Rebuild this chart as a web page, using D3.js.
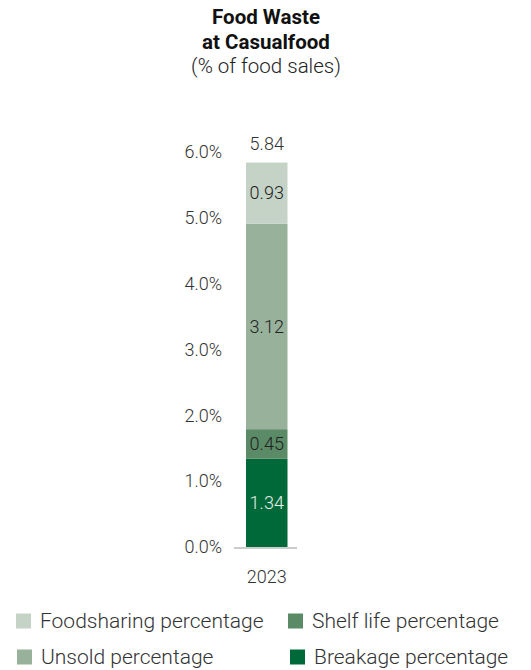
<!DOCTYPE html>
<html>
<head>
<meta charset="utf-8">
<script src="https://cdn.jsdelivr.net/npm/d3@7"></script>
<style>
  html, body { margin: 0; padding: 0; background: #fff; }
  svg { display: block; font-family: Roboto, "Noto Sans", sans-serif; }
</style>
</head>
<body>
<svg id="chart" width="531" height="670"></svg>
<script>
// Food waste by category, % of food sales
const years = ["2023"];
const categories = ["Breakage percentage", "Shelf life percentage", "Unsold percentage", "Foodsharing percentage"];
const breakage = [1.34];
const shelfLife = [0.45];
const unsold = [3.12];
const foodsharing = [0.93];
const totals = [5.84];
const yTicks = [0, 1, 2, 3, 4, 5, 6];
const colors = ["#00693a", "#5b8a67", "#97b19a", "#c5d3c7"];
const labelColors = ["#e8efe9", "#222", "#222", "#222"];
const legendOrder = ["Foodsharing percentage", "Shelf life percentage", "Unsold percentage", "Breakage percentage"];

const svg = d3.select("#chart");

// Title
const title = svg.append("g").attr("text-anchor", "middle").attr("fill", "#111");
title.append("text").attr("x", 266).attr("y", 24).attr("font-size", 20.5).attr("font-weight", 700).text("Food Waste");
title.append("text").attr("x", 266).attr("y", 49).attr("font-size", 20.5).attr("font-weight", 700).text("at Casualfood");
title.append("text").attr("x", 266).attr("y", 73).attr("font-size", 20.5).attr("font-weight", 300).attr("fill", "#222").text("(% of food sales)");

const y = d3.scaleLinear().domain([0, 6]).range([547, 152]);
const x = d3.scaleBand().domain(years).range([246, 287.5]).padding(0);

// Stack the series
const rows = years.map((yr, i) => ({
  year: yr,
  "Breakage percentage": breakage[i],
  "Shelf life percentage": shelfLife[i],
  "Unsold percentage": unsold[i],
  "Foodsharing percentage": foodsharing[i]
}));
const stack = d3.stack().keys(categories)(rows);

// Y axis labels (no line)
const yAxis = d3.axisLeft(y).tickValues(yTicks).tickFormat(d => d3.format(".1f")(d) + "%").tickSize(0).tickPadding(0);
const ya = svg.append("g").attr("transform", "translate(222,0)").call(yAxis);
ya.select(".domain").remove();
ya.selectAll("text").attr("font-size", 18).attr("font-weight", 300).attr("fill", "#333").attr("font-family", "Roboto, sans-serif");

// Bars
const layers = svg.append("g").selectAll("g").data(stack).join("g").attr("fill", (d, i) => colors[i]);
layers.selectAll("rect").data(d => d).join("rect")
  .attr("x", d => x(d.data.year))
  .attr("width", x.bandwidth())
  .attr("y", d => y(d[1]))
  .attr("height", d => y(d[0]) - y(d[1]));

// Segment labels
stack.forEach((layer, i) => {
  svg.append("g").selectAll("text").data(layer).join("text")
    .attr("x", d => x(d.data.year) + x.bandwidth() / 2)
    .attr("y", d => (y(d[0]) + y(d[1])) / 2)
    .attr("dy", "0.35em")
    .attr("text-anchor", "middle")
    .attr("font-size", 18).attr("font-weight", 300)
    .attr("fill", labelColors[i])
    .text(d => d3.format(".2f")(d[1] - d[0]));
});

// Totals above bar
svg.append("g").selectAll("text").data(years).join("text")
  .attr("x", d => x(d) + x.bandwidth() / 2)
  .attr("y", (d, i) => y(totals[i]) - 19)
  .attr("dy", "0.35em")
  .attr("text-anchor", "middle")
  .attr("font-size", 18).attr("font-weight", 300).attr("fill", "#333")
  .text((d, i) => d3.format(".2f")(totals[i]));

// Baseline
svg.append("line")
  .attr("x1", 234).attr("x2", 297)
  .attr("y1", y(0) + 1).attr("y2", y(0) + 1)
  .attr("stroke", "#cccccc").attr("stroke-width", 2);

// X axis labels
const xAxis = d3.axisBottom(x).tickSize(0).tickPadding(22);
const xa = svg.append("g").attr("transform", `translate(0,${y(0) + 1})`).call(xAxis);
xa.select(".domain").remove();
xa.selectAll("text").attr("font-size", 18).attr("font-weight", 300).attr("fill", "#333").attr("font-family", "Roboto, sans-serif");

// Legend
const legendPos = [[16, 621], [288, 621], [17, 657], [290, 657]];
const leg = svg.append("g").selectAll("g").data(legendOrder).join("g")
  .attr("transform", (d, i) => `translate(${legendPos[i][0]},${legendPos[i][1]})`);
leg.append("rect").attr("x", 0).attr("y", -7.5).attr("width", 15).attr("height", 15)
  .attr("fill", d => colors[categories.indexOf(d)]);
leg.append("text").attr("x", 24).attr("y", 0).attr("dy", "0.35em")
  .attr("font-size", 21).attr("font-weight", 300).attr("fill", "#333").text(d => d);
</script>
</body>
</html>
